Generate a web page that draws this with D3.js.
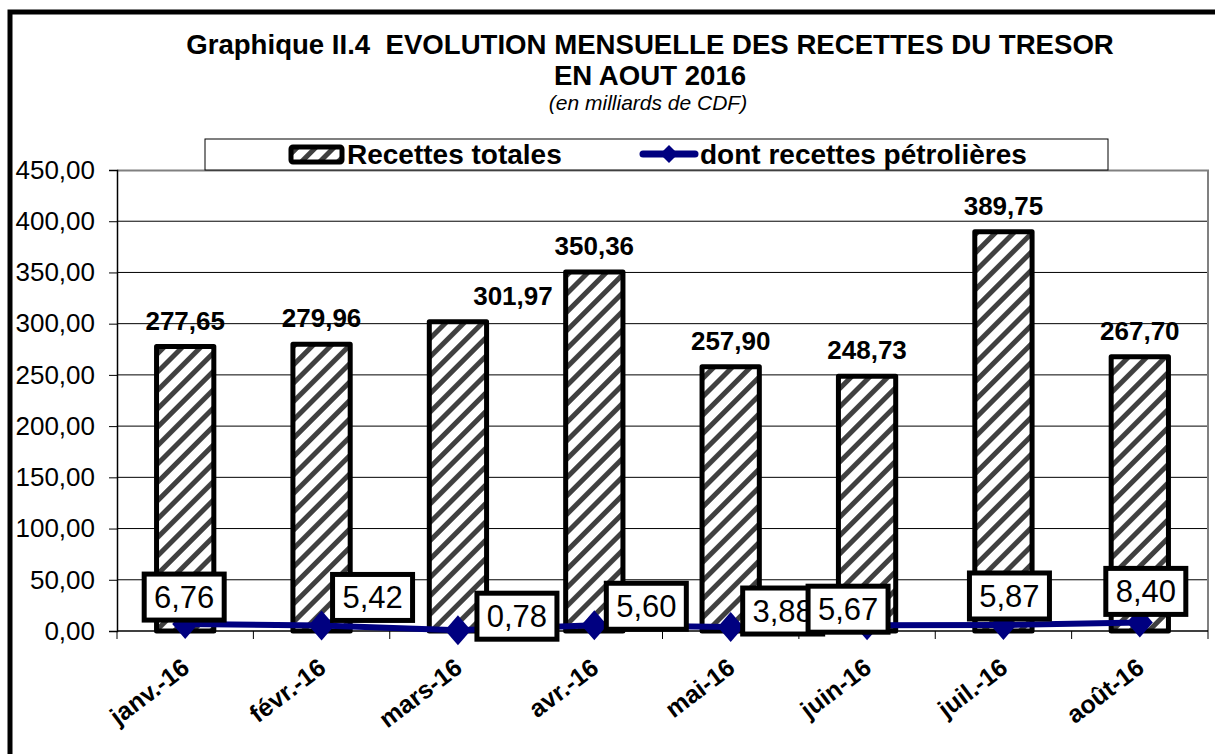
<!DOCTYPE html>
<html>
<head>
<meta charset="utf-8">
<script src="https://cdnjs.cloudflare.com/ajax/libs/d3/7.8.5/d3.min.js"></script>
<style>
body { margin: 0; background: #fff; }
text { font-family: "Liberation Sans", Arial, sans-serif; }
</style>
</head>
<body>
<script>
// data
var months = ["janv.-16", "févr.-16", "mars-16", "avr.-16", "mai-16", "juin-16", "juil.-16", "août-16"];
var totalRevenue = [277.65, 279.96, 301.97, 350.36, 257.90, 248.73, 389.75, 267.70];
var oilRevenue = [6.76, 5.42, 0.78, 5.60, 3.88, 5.67, 5.87, 8.40];
var yTicks = [0, 50, 100, 150, 200, 250, 300, 350, 400, 450];

// manual nudges for the labels (the original had them dragged around)
var barLabelShift = [[0, 0], [0, 0], [55, 0], [0, 0], [0, 0], [0, 0], [0, 0], [0, 0]];
var oilLabelShift = [[-1, -27], [51, -28], [59, -14], [52, -19], [52, -16], [-19, -16], [6, -29], [6, -31]];

var W = 1215, H = 754;
var margin = { top: 170, right: 7, bottom: 123, left: 117 };
var width = W - margin.left - margin.right;
var height = H - margin.top - margin.bottom;

var fmt = function(d) { return d3.format(".2f")(d).replace(".", ","); };

var svg = d3.select("body").append("svg")
    .attr("width", W)
    .attr("height", H);

// hatch pattern for the bars
var defs = svg.append("defs");
var pat = defs.append("pattern")
    .attr("id", "hatch")
    .attr("patternUnits", "userSpaceOnUse")
    .attr("width", 13)
    .attr("height", 13)
    .attr("patternTransform", "rotate(45)");
pat.append("rect").attr("width", 13).attr("height", 13).attr("fill", "#fff");
pat.append("rect").attr("x", 0).attr("width", 5).attr("height", 13).attr("fill", "#404040");

// outer frame (right and bottom edges are off the picture)
svg.append("rect")
    .attr("x", 10).attr("y", 12)
    .attr("width", W + 20).attr("height", H + 20)
    .attr("fill", "none")
    .attr("stroke", "#000")
    .attr("stroke-width", 5);

// title
svg.append("text").attr("x", 650).attr("y", 54)
    .attr("text-anchor", "middle").attr("font-weight", "bold").attr("font-size", 27.6)
    .attr("xml:space", "preserve")
    .text("Graphique II.4  EVOLUTION MENSUELLE DES RECETTES DU TRESOR");
svg.append("text").attr("x", 650).attr("y", 85)
    .attr("text-anchor", "middle").attr("font-weight", "bold").attr("font-size", 27.6)
    .text("EN AOUT 2016");
svg.append("text").attr("x", 648).attr("y", 110)
    .attr("text-anchor", "middle").attr("font-style", "italic").attr("font-size", 21)
    .text("(en milliards de CDF)");

var g = svg.append("g")
    .attr("transform", "translate(" + margin.left + "," + margin.top + ")");

var x = d3.scaleBand()
    .domain(months)
    .range([0, width])
    .paddingInner(0.58)
    .paddingOuter(0.29);

var y = d3.scaleLinear()
    .domain([0, 450])
    .range([height, 0]);

// grid lines
g.selectAll(".grid")
    .data(yTicks.filter(function(d) { return d > 0 && d < 450; }))
    .enter().append("line")
    .attr("x1", 0).attr("x2", width)
    .attr("y1", function(d) { return y(d); })
    .attr("y2", function(d) { return y(d); })
    .attr("stroke", "#000").attr("stroke-width", 1);

// plot border top and right in grey
g.append("path")
    .attr("d", "M0,0.5H" + width + "V" + height)
    .attr("fill", "none").attr("stroke", "#808080").attr("stroke-width", 2);

// y axis
var yAxis = g.append("g")
    .call(d3.axisLeft(y).tickValues(yTicks).tickSize(8).tickPadding(14).tickFormat(fmt));
yAxis.select(".domain").attr("stroke-width", 1.5);
yAxis.selectAll("text").attr("font-size", 26).attr("font-family", "Liberation Sans, Arial, sans-serif").attr("fill", "#000");

// x axis with ticks at the category boundaries
g.append("line").attr("x1", 0).attr("x2", width)
    .attr("y1", height).attr("y2", height)
    .attr("stroke", "#000").attr("stroke-width", 1.5);
var step = x.step();
g.selectAll(".xtick")
    .data(d3.range(months.length + 1))
    .enter().append("line")
    .attr("x1", function(i) { return x(months[0]) - step * x.paddingOuter() + i * step; })
    .attr("x2", function(i) { return x(months[0]) - step * x.paddingOuter() + i * step; })
    .attr("y1", height).attr("y2", height + 8)
    .attr("stroke", "#000");

g.selectAll(".xlabel")
    .data(months)
    .enter().append("text")
    .attr("text-anchor", "end")
    .attr("font-weight", "bold")
    .attr("font-size", 25)
    .attr("transform", function(d) {
        return "translate(" + (x(d) + x.bandwidth() / 2 + 6) + "," + (height + 40) + ") rotate(-37)";
    })
    .text(function(d) { return d; });

// bars
g.selectAll(".bar")
    .data(totalRevenue)
    .enter().append("rect")
    .attr("class", "bar")
    .attr("x", function(d, i) { return x(months[i]); })
    .attr("y", function(d) { return y(d); })
    .attr("width", x.bandwidth())
    .attr("height", function(d) { return height - y(d); })
    .attr("fill", "url(#hatch)")
    .attr("stroke", "#000")
    .attr("stroke-width", 5)
    .attr("stroke-linejoin", "round");

g.selectAll(".barlabel")
    .data(totalRevenue)
    .enter().append("text")
    .attr("text-anchor", "middle")
    .attr("font-weight", "bold")
    .attr("font-size", 26)
    .attr("x", function(d, i) { return x(months[i]) + x.bandwidth() / 2 + barLabelShift[i][0]; })
    .attr("y", function(d, i) { return y(d) - 17 + barLabelShift[i][1]; })
    .text(fmt);

// oil revenue line
var line = d3.line()
    .x(function(d, i) { return x(months[i]) + x.bandwidth() / 2; })
    .y(function(d) { return y(d); });

g.append("path")
    .datum(oilRevenue)
    .attr("d", line)
    .attr("fill", "none")
    .attr("stroke", "#000080")
    .attr("stroke-width", 6);

g.selectAll(".marker")
    .data(oilRevenue)
    .enter().append("path")
    .attr("transform", function(d, i) { return "translate(" + (x(months[i]) + x.bandwidth() / 2) + "," + y(d) + ")"; })
    .attr("d", "M0,-15L13,0L0,15L-13,0Z")
    .attr("fill", "#000080");

// boxed labels for the oil revenue
var boxes = g.selectAll(".oilbox")
    .data(oilRevenue)
    .enter().append("g")
    .attr("transform", function(d, i) {
        return "translate(" + (x(months[i]) + x.bandwidth() / 2 + oilLabelShift[i][0]) + "," + (y(d) + oilLabelShift[i][1]) + ")";
    });
boxes.append("rect")
    .attr("x", -40).attr("y", -23)
    .attr("width", 80).attr("height", 46)
    .attr("fill", "#fff")
    .attr("stroke", "#000")
    .attr("stroke-width", 5);
boxes.append("text")
    .attr("text-anchor", "middle")
    .attr("y", 11)
    .attr("font-size", 31)
    .text(fmt);

// legend
var leg = svg.append("g");
leg.append("rect")
    .attr("x", 205).attr("y", 139)
    .attr("width", 903).attr("height", 31)
    .attr("fill", "#fff").attr("stroke", "#000").attr("stroke-width", 1);
leg.append("rect")
    .attr("x", 291).attr("y", 147)
    .attr("width", 51).attr("height", 15)
    .attr("fill", "url(#hatch)").attr("stroke", "#000").attr("stroke-width", 5)
    .attr("rx", 2);
leg.append("text").attr("x", 347).attr("y", 164)
    .attr("font-weight", "bold").attr("font-size", 28)
    .text("Recettes totales");
leg.append("line")
    .attr("x1", 643).attr("x2", 695).attr("y1", 154).attr("y2", 154)
    .attr("stroke", "#000080").attr("stroke-width", 7).attr("stroke-linecap", "round");
leg.append("path")
    .attr("transform", "translate(669,154)")
    .attr("d", "M0,-9L9,0L0,9L-9,0Z")
    .attr("fill", "#000080");
leg.append("text").attr("x", 700).attr("y", 164)
    .attr("font-weight", "bold").attr("font-size", 28)
    .text("dont recettes pétrolières");
</script>
</body>
</html>
